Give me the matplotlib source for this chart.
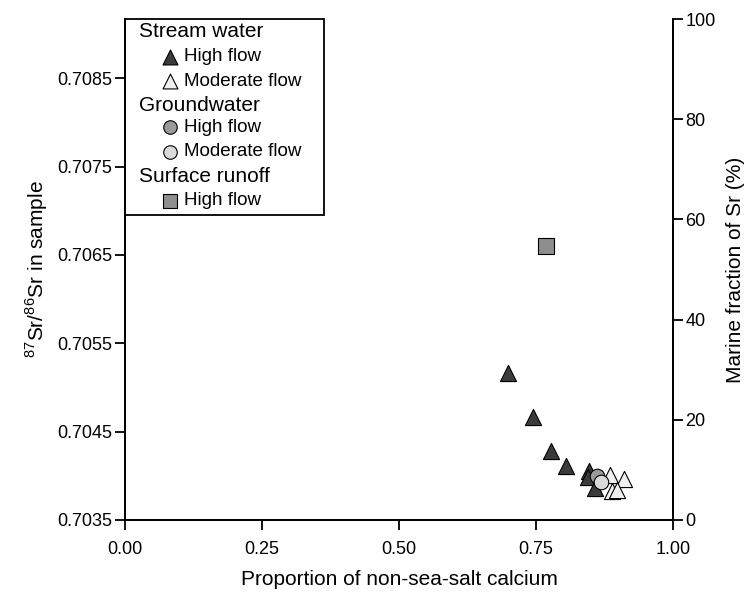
import matplotlib
matplotlib.use("Agg")
import matplotlib.pyplot as plt
from matplotlib.patches import Rectangle

plt.rcParams['font.family'] = ['Liberation Sans', 'DejaVu Sans']
plt.rcParams['mathtext.fontset'] = 'custom'
plt.rcParams['mathtext.rm'] = 'Liberation Sans'

# proportion of non-sea-salt Ca (x) and 87Sr/86Sr (y)
stream_high_x = [0.698, 0.744, 0.777, 0.805, 0.847, 0.844, 0.858]
stream_high_y = [0.70516, 0.70467, 0.70428, 0.70411, 0.70406, 0.70399, 0.70386]
stream_mod_x = [0.885, 0.911, 0.889, 0.897]
stream_mod_y = [0.70401, 0.70396, 0.70383, 0.70384]
ground_high_x = [0.862]
ground_high_y = [0.70400]
ground_mod_x = [0.868]
ground_mod_y = [0.70393]
runoff_high_x = [0.768]
runoff_high_y = [0.70660]

sr_ticks = [0.7035, 0.7045, 0.7055, 0.7065, 0.7075, 0.7085]
x_ticks = [0.0, 0.25, 0.5, 0.75, 1.0]
marine_ticks = [0, 20, 40, 60, 80, 100]

fig = plt.figure(figsize=(7.47, 5.97), dpi=100)
ax = fig.add_axes([0.1673, 0.129, 0.7337, 0.839])
ax2 = ax.twinx()

ec = 'black'
lw = 0.8
ax.scatter(stream_high_x, stream_high_y, marker='^', s=135, c='#3b3b3b', edgecolors=ec, linewidths=lw, zorder=3)
ax.scatter(stream_mod_x, stream_mod_y, marker='^', s=135, c='#efefef', edgecolors=ec, linewidths=lw, zorder=3)
ax.scatter(ground_high_x, ground_high_y, marker='o', s=110, c='#9a9a9a', edgecolors=ec, linewidths=lw, zorder=4)
ax.scatter(ground_mod_x, ground_mod_y, marker='o', s=110, c='#dadada', edgecolors=ec, linewidths=lw, zorder=4)
ax.scatter(runoff_high_x, runoff_high_y, marker='s', s=120, c='#8e8e8e', edgecolors=ec, linewidths=lw, zorder=3)

ax.set_xlim(0, 1.0)
ax.set_ylim(0.7035, 0.70917)
ax.set_xticks(x_ticks)
ax.set_xticklabels(['%.2f' % t for t in x_ticks])
ax.set_yticks(sr_ticks)
ax.set_yticklabels(['%.4f' % t for t in sr_ticks])
ax2.set_ylim(0, 100)
ax2.set_yticks(marine_ticks)

for a in (ax, ax2):
    a.spines['top'].set_visible(False)
    for s in a.spines.values():
        s.set_linewidth(1.3)
    a.tick_params(direction='out', length=7, width=1.3, labelsize=13, pad=2)
ax.tick_params(axis='x', pad=8)

ax.set_xlabel('Proportion of non-sea-salt calcium', fontsize=15, labelpad=9)
ax.set_ylabel('$^{87}$Sr/$^{86}$Sr in sample', fontsize=15, labelpad=5)
ax2.set_ylabel('Marine fraction of Sr (%)', fontsize=15, labelpad=7)

# legend box drawn by hand, with section headers
ax.add_patch(Rectangle((0, 0.609), 0.363, 0.391, transform=ax.transAxes,
                       facecolor='white', edgecolor='black', linewidth=1.3, zorder=5, clip_on=False))
rows = [
    ('Stream water', None, None, 0),
    ('High flow', '^', '#3b3b3b', 115),
    ('Moderate flow', '^', '#efefef', 115),
    ('Groundwater', None, None, 0),
    ('High flow', 'o', '#9a9a9a', 95),
    ('Moderate flow', 'o', '#dadada', 95),
    ('Surface runoff', None, None, 0),
    ('High flow', 's', '#8e8e8e', 100),
]
ys = [0.975, 0.925, 0.876, 0.828, 0.784, 0.735, 0.685, 0.637]
for (label, mk, col, sz), yy in zip(rows, ys):
    if mk is None:
        ax.text(0.026, yy, label, transform=ax.transAxes, fontsize=15, va='center', ha='left', zorder=6)
    else:
        ax.scatter([0.082], [yy], marker=mk, s=sz, c=col, edgecolors=ec, linewidths=lw,
                   transform=ax.transAxes, zorder=6, clip_on=False)
        ax.text(0.108, yy, label, transform=ax.transAxes, fontsize=13.5, va='center', ha='left', zorder=6)

fig.savefig('out.png', dpi=100)
